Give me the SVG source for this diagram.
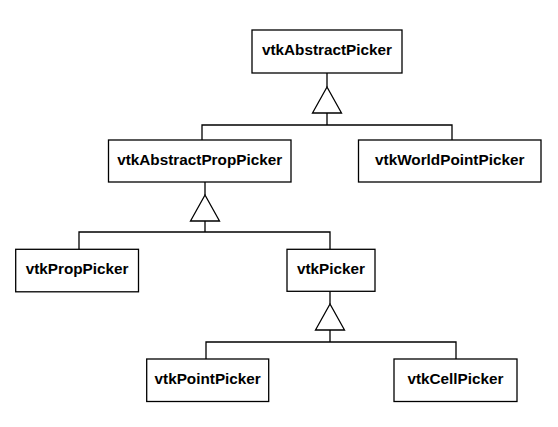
<svg xmlns="http://www.w3.org/2000/svg" width="558" height="427" viewBox="0 0 558 427">
<style>
.box{fill:#fff;stroke:#000;stroke-width:1.3}
.lbl{font-family:"Liberation Sans",Arial,sans-serif;font-weight:bold;font-size:15.3px;fill:#000;text-anchor:middle}
.ln{fill:none;stroke:#000;stroke-width:1.3}
.tri{fill:#fff;stroke:#000;stroke-width:1.3;stroke-linejoin:miter}
</style>
<rect width="558" height="427" fill="#fff"/>
<g id="connectors">
  <path class="ln" d="M327,73 V87 M327,113 V125 M202,140 V125 H452 V140"/>
  <polygon class="tri" points="327,87 341.5,113 312.5,113"/>
  <path class="ln" d="M205,182 V195 M205,221 V232 M79,249 V232 H330 V249"/>
  <polygon class="tri" points="205,195 219.5,221 190.5,221"/>
  <path class="ln" d="M330,291 V304 M330,330 V342 M206,359 V342 H456 V359"/>
  <polygon class="tri" points="330,304 344.5,330 315.5,330"/>
</g>
<g id="vtkAbstractPicker">
  <rect class="box" x="252" y="30" width="150" height="43"/>
  <text class="lbl" x="327" y="54.5">vtkAbstractPicker</text>
</g>
<g id="vtkAbstractPropPicker">
  <rect class="box" x="108.5" y="140" width="182.5" height="42"/>
  <text class="lbl" x="199.7" y="164.5">vtkAbstractPropPicker</text>
</g>
<g id="vtkWorldPointPicker">
  <rect class="box" x="358.5" y="140" width="182.5" height="42"/>
  <text class="lbl" x="449.7" y="164.5">vtkWorldPointPicker</text>
</g>
<g id="vtkPropPicker">
  <rect class="box" x="15.7" y="249.3" width="122.8" height="42.5"/>
  <text class="lbl" x="77.1" y="274.3">vtkPropPicker</text>
</g>
<g id="vtkPicker">
  <rect class="box" x="287" y="249.3" width="88" height="42"/>
  <text class="lbl" x="331" y="274.3">vtkPicker</text>
</g>
<g id="vtkPointPicker">
  <rect class="box" x="146.7" y="359" width="122" height="42.5"/>
  <text class="lbl" x="207.7" y="384">vtkPointPicker</text>
</g>
<g id="vtkCellPicker">
  <rect class="box" x="394" y="359" width="123" height="42.5"/>
  <text class="lbl" x="455.5" y="384">vtkCellPicker</text>
</g>
</svg>
